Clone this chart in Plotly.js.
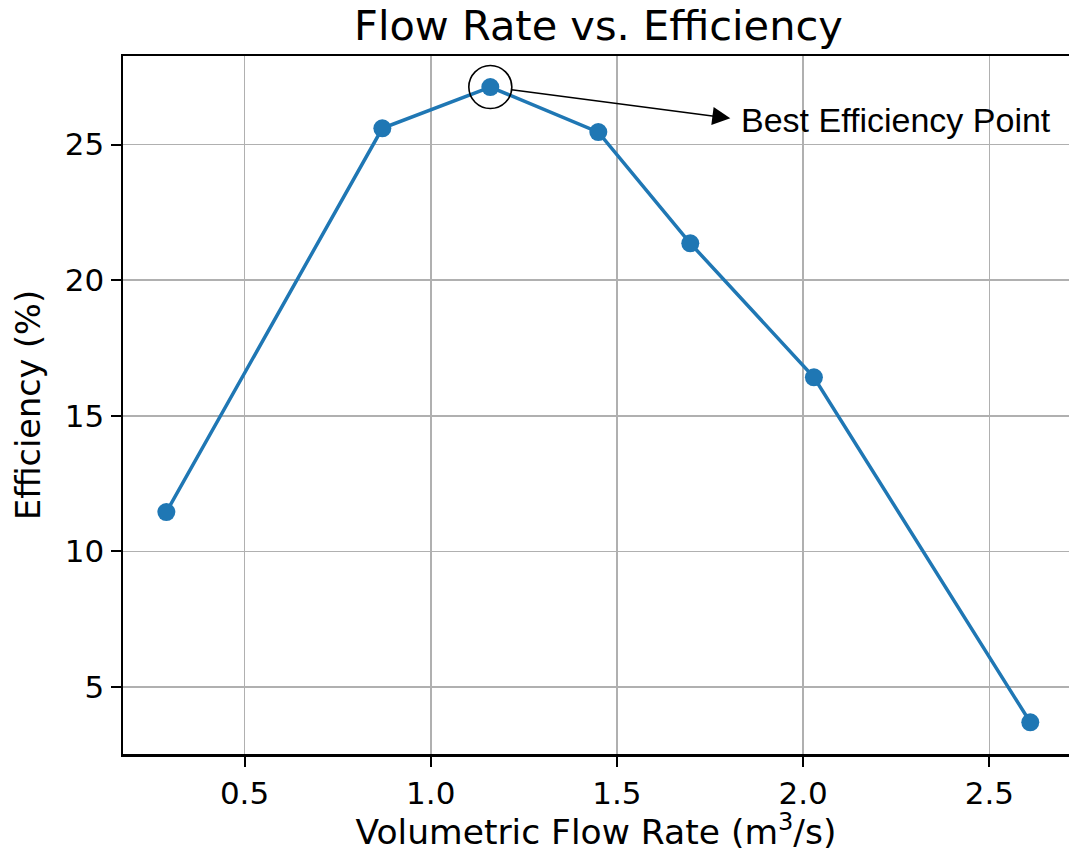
<!DOCTYPE html>
<html>
<head>
<meta charset="utf-8">
<script src="https://cdn.plot.ly/plotly-3.0.1.min.js"></script>
<style>html,body{margin:0;padding:0;background:#fff;}#chart{width:1069px;height:852px;}</style>
</head>
<body>
<div id="chart"></div>
<script>
const flowRate = [0.290, 0.870, 1.160, 1.450, 1.697, 2.029, 2.610];
const efficiency = [11.45, 25.60, 27.12, 25.46, 21.36, 16.42, 3.70];
const xTicks = [0.5, 1.0, 1.5, 2.0, 2.5];
const xTickLabels = ['0.5', '1.0', '1.5', '2.0', '2.5'];
const yTicks = [5, 10, 15, 20, 25];
const yTickLabels = ['5', '10', '15', '20', '25'];
const bestLabel = 'Best Efficiency Point';

let bi = 0;
for (let i = 1; i < efficiency.length; i++) if (efficiency[i] > efficiency[bi]) bi = i;
const bx = flowRate[bi], by = efficiency[bi];

const font = 'DejaVu Sans, sans-serif';
const trace = {
  x: flowRate, y: efficiency, type: 'scatter', mode: 'lines+markers',
  line: {color: '#1f77b4', width: 3.5},
  marker: {color: '#1f77b4', size: 18},
  hoverinfo: 'skip', showlegend: false
};

const layout = {
  width: 1069, height: 852,
  margin: {l: 123, r: 0, t: 56, b: 98},
  paper_bgcolor: '#fff', plot_bgcolor: '#fff',
  font: {family: font, color: '#000', size: 31},
  title: {text: 'Flow Rate vs. Efficiency', font: {family: font, size: 41.5, color: '#000'},
          x: 0.5026, xanchor: 'center', y: 1 - 25/852, yanchor: 'middle', xref: 'paper', yref: 'container'},
  xaxis: {
    range: [0.1736, 2.714], tickvals: xTicks, ticktext: xTickLabels,
    showgrid: true, gridcolor: '#b0b0b0', gridwidth: 1.6,
    showline: true, linecolor: '#000', linewidth: 2.5, mirror: true,
    ticks: 'outside', ticklen: 10, tickwidth: 2, tickcolor: '#000',
    zeroline: false, tickfont: {family: font, size: 31},
    title: {text: 'Volumetric Flow Rate (m<sup>3</sup>/s)', font: {family: font, size: 34.5}, standoff: 16}
  },
  yaxis: {
    range: [2.531, 28.265], tickvals: yTicks, ticktext: yTickLabels,
    showgrid: true, gridcolor: '#b0b0b0', gridwidth: 1.6,
    showline: true, linecolor: '#000', linewidth: 2.5, mirror: false,
    ticks: 'outside', ticklen: 10, tickwidth: 2, tickcolor: '#000',
    zeroline: false, tickfont: {family: font, size: 31},
    title: {text: 'Efficiency (%)', font: {family: font, size: 33.5}, standoff: 14}
  },
  shapes: [{
    type: 'circle', xref: 'x', yref: 'y', xsizemode: 'pixel', ysizemode: 'pixel',
    xanchor: bx, yanchor: by, x0: -21.5, x1: 21.5, y0: -21.5, y1: 21.5,
    line: {color: '#000', width: 1.6}, fillcolor: 'rgba(0,0,0,0)'
  }],
  annotations: [{
    x: bx, y: by, xref: 'x', yref: 'y', axref: 'x', ayref: 'y', ax: 1.8085, ay: 25.96,
    text: '', showarrow: true, arrowside: 'start', startarrowhead: 2, startarrowsize: 2.4,
    arrowwidth: 1.5, arrowcolor: '#000', standoff: 21.5, startstandoff: 0
  }, {
    x: 1.831, y: 25.92, xref: 'x', yref: 'y', xanchor: 'left', yanchor: 'middle',
    text: bestLabel, showarrow: false, borderpad: 0,
    font: {family: 'Liberation Sans, Arial, sans-serif', size: 34, color: '#000'}
  }]
};

Plotly.newPlot('chart', [trace], layout, {displayModeBar: false, staticPlot: true});
</script>
</body>
</html>
